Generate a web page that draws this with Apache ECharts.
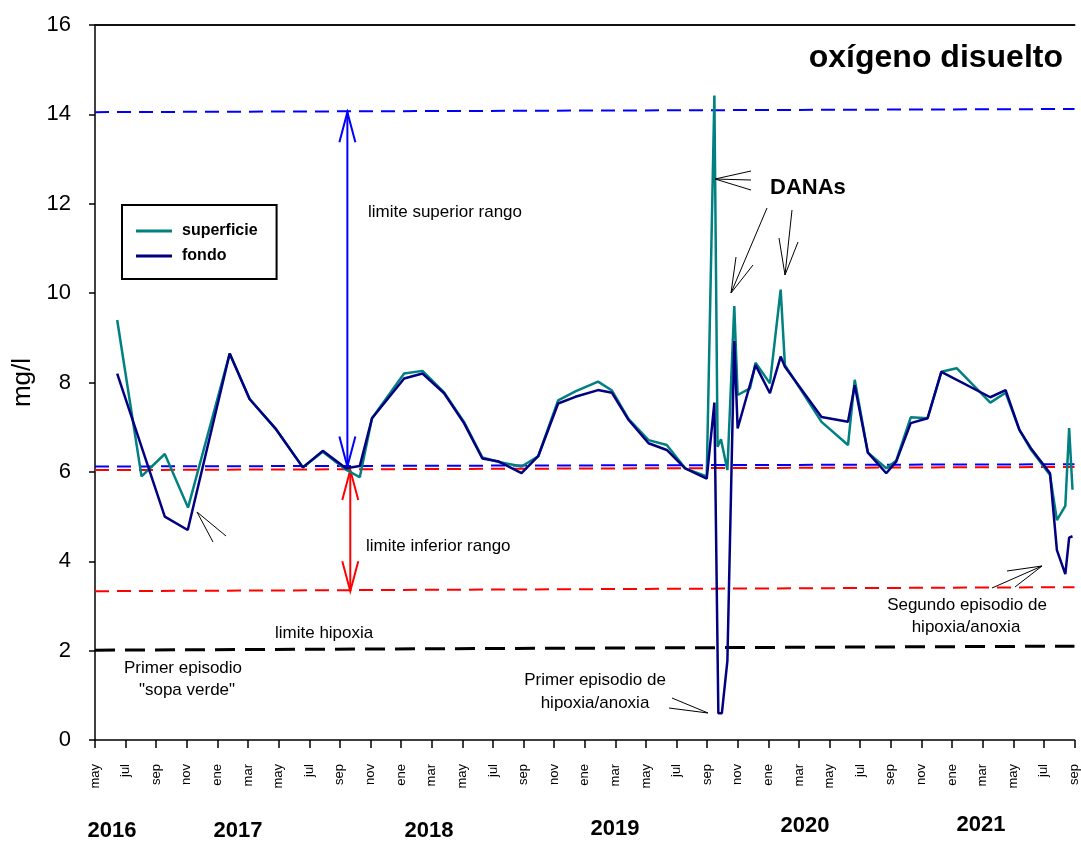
<!DOCTYPE html>
<html>
<head>
<meta charset="utf-8">
<script src="https://cdn.jsdelivr.net/npm/echarts@6/dist/echarts.min.js"></script>
<style>
html,body{margin:0;padding:0;background:#fff;}
#chart{width:1081px;height:843px;}
</style>
</head>
<body>
<div id="chart"></div>
<script>
// ---- data (x = months since May 2016) ----
var monthLabels = ['may','jul','sep','nov','ene','mar'];
var yearLabels = ['2016','2017','2018','2019','2020','2021'];

var superficieMonth = [1.45,3.04,4.56,6.08,8.8,10.1,11.84,13.58,14.88,16.4,17.3,18.1,20.2,21.4,22.81,24.11,25.31,26.39,27.87,28.96,30.26,31.39,32.87,33.78,34.87,36.17,37.36,38.56,39.97,40.47,40.68,40.9,41.32,41.77,41.99,42.8,43.16,44.1,44.8,45.08,47.47,49.2,49.64,50.5,51.7,52.35,53.3,54.4,55.3,56.3,58.5,59.5,60.4,61.15,62.4,62.85,63.4,63.65,63.87];
var superficieValue = [9.4,5.9,6.4,5.2,8.65,7.63,6.95,6.1,6.45,6.05,5.88,7.2,8.2,8.26,7.78,7.12,6.32,6.22,6.12,6.35,7.6,7.8,8.02,7.82,7.18,6.71,6.6,6.08,5.9,14.42,6.56,6.73,6.04,9.71,7.72,7.87,8.44,7.98,10.08,8.39,7.12,6.6,8.06,6.43,6.08,6.25,7.22,7.2,8.24,8.32,7.55,7.77,6.94,6.5,5.93,4.92,5.24,6.98,5.6];

var fondoMonth = [1.45,4.56,6.06,8.8,10.1,11.84,13.58,14.88,16.4,17.3,18.1,20.2,21.4,22.81,24.11,25.31,26.39,27.87,28.96,30.26,31.39,32.87,33.78,34.87,36.17,37.36,38.56,39.97,40.47,40.73,40.96,41.32,41.77,41.99,43.16,44.1,44.8,45.08,47.47,49.2,49.64,50.5,51.7,52.35,53.3,54.4,55.3,58.5,59.5,60.4,61.15,62.4,62.85,63.4,63.65,63.87];
var fondoValue = [8.2,5.0,4.7,8.65,7.63,6.95,6.1,6.47,6.08,6.13,7.2,8.09,8.2,7.76,7.09,6.3,6.23,5.97,6.35,7.53,7.68,7.83,7.77,7.16,6.64,6.49,6.08,5.85,7.55,0.6,0.6,1.77,8.93,6.97,8.39,7.76,8.58,8.35,7.23,7.12,7.94,6.43,5.97,6.23,7.09,7.2,8.24,7.67,7.83,6.94,6.53,5.97,4.25,3.71,4.53,4.56];

var refLineMonth = [0, 64];
var upperBlue = [14.05, 14.12];
var lowerBlue = [6.12, 6.17];
var upperRed = [6.04, 6.11];
var lowerRed = [3.33, 3.42];
var hypoxia = [2.01, 2.10];

// range arrows: [month, from, to]
var blueArrow = [16.49, 14.05, 6.12];
var redArrow = [16.68, 6.04, 3.33];

function pairs(xs, ys){ return xs.map(function(x,i){ return [x, ys[i]]; }); }

var FONT = '"Liberation Sans", Arial, sans-serif';

function refSeries(vals, color, width, dash){
  return {
    type:'line', data: pairs(refLineMonth, vals), symbol:'none', silent:true,
    lineStyle:{color:color, width:width, type:dash}, z:1
  };
}

function arrowSeries(a, color){
  return {
    type:'custom', silent:true, z:3,
    data:[a],
    renderItem:function(params, api){
      var p1 = api.coord([api.value(0), api.value(1)]);
      var p2 = api.coord([api.value(0), api.value(2)]);
      var hw = 8, hl = 30;
      var st = {stroke:color, lineWidth:2, fill:null};
      return {type:'group', children:[
        {type:'line', shape:{x1:p1[0],y1:p1[1],x2:p2[0],y2:p2[1]}, style:st},
        {type:'polyline', shape:{points:[[p1[0]-hw,p1[1]+hl],[p1[0],p1[1]],[p1[0]+hw,p1[1]+hl]]}, style:st},
        {type:'polyline', shape:{points:[[p2[0]-hw,p2[1]-hl],[p2[0],p2[1]],[p2[0]+hw,p2[1]-hl]]}, style:st}
      ]};
    }
  };
}

function txt(x, y, s, size, align, bold){
  return {type:'text', x:x, y:y, silent:true, z:10, style:{text:s, fontSize:size, fontFamily:FONT,
    fontWeight:bold?'bold':'normal', fill:'#000', align:align||'left', verticalAlign:'middle'}};
}
function pl(points){
  return {type:'polyline', silent:true, z:10, shape:{points:points}, style:{stroke:'#000', lineWidth:1, fill:null}};
}

var chart = echarts.init(document.getElementById('chart'), null, {renderer:'canvas'});

var yearPos = [[112,831],[238,831],[429,831],[615,829],[805,826],[981,825]];
var graphics = [];
yearLabels.forEach(function(y,i){ graphics.push(txt(yearPos[i][0], yearPos[i][1], y, 22, 'center', true)); });
graphics.push(
  txt(1063, 58, 'oxígeno disuelto', 32, 'right', true),
  txt(368, 212, 'limite superior rango', 17),
  txt(366, 546, 'limite inferior rango', 17),
  txt(275, 633, 'limite hipoxia', 17),
  txt(183, 668, 'Primer episodio', 17, 'center'),
  txt(187, 690, '"sopa verde"', 17, 'center'),
  txt(770, 188, 'DANAs', 22, 'left', true),
  txt(595, 680, 'Primer episodio de', 17, 'center'),
  txt(595, 703, 'hipoxia/anoxia', 17, 'center'),
  txt(967, 605, 'Segundo episodio de', 17, 'center'),
  txt(966, 627, 'hipoxia/anoxia', 17, 'center'),
  pl([[226,536],[197,512],[213,542]]),
  pl([[751,171],[715,179],[751,180]]),
  pl([[715,179],[751,190]]),
  pl([[767,208],[731,293]]),
  pl([[736,257],[731,293],[753,265]]),
  pl([[792,210],[785,275]]),
  pl([[779,238],[785,275],[798,242]]),
  pl([[672,698],[708,713],[669,708]]),
  pl([[1007,571],[1042,566],[992,588]]),
  pl([[1042,566],[1015,587]])
);

var option = {
  backgroundColor:'#fff',
  animation:false,
  grid:{left:95, right:4, top:25, bottom:103, containLabel:false},
  legend:{
    show:true, orient:'vertical', left:122, top:205,
    data:['superficie','fondo'],
    itemWidth:36, itemHeight:3, itemGap:9,
    padding:[18,19,15,14],
    borderColor:'#000', borderWidth:2, backgroundColor:'#fff',
    textStyle:{fontFamily:FONT, fontSize:16, fontWeight:'bold', color:'#000', padding:[0,0,0,5]},
    icon:'rect',
    selectedMode:false
  },
  xAxis:[{
    type:'value', min:0, max:64, interval:2,
    axisLine:{lineStyle:{color:'#000', width:1.5}},
    axisTick:{show:true, inside:false, length:8, lineStyle:{color:'#000', width:1.5}},
    axisLabel:{rotate:90, fontSize:13, fontFamily:FONT, color:'#000', margin:24,
      formatter:function(v){ return monthLabels[Math.round(v/2)%6]; }},
    splitLine:{show:false}
  },{
    type:'value', position:'top', min:0, max:64,
    axisLine:{show:true, lineStyle:{color:'#111', width:2}},
    axisTick:{show:false}, axisLabel:{show:false}, splitLine:{show:false}
  }],
  yAxis:{
    type:'value', min:0, max:16, interval:2,
    name:'mg/l', nameLocation:'middle', nameGap:40, nameRotate:90,
    nameTextStyle:{fontSize:26, fontFamily:FONT, color:'#000'},
    axisLine:{show:true, lineStyle:{color:'#000', width:1.5}},
    axisTick:{show:true, inside:false, length:6, lineStyle:{color:'#000', width:1.5}},
    axisLabel:{fontSize:22, fontFamily:FONT, color:'#000', margin:24},
    splitLine:{show:false}
  },
  graphic:graphics,
  series:[
    refSeries(upperBlue, '#0000ff', 2, [14,8]),
    refSeries(lowerBlue, '#0000ff', 2, [14,8]),
    refSeries(upperRed, '#ff0000', 2, [14,8]),
    refSeries(lowerRed, '#ff0000', 2, [14,8]),
    refSeries(hypoxia, '#000000', 3, [20,10]),
    arrowSeries(blueArrow, '#0000ff'),
    arrowSeries(redArrow, '#ff0000'),
    {name:'superficie', type:'line', data:pairs(superficieMonth, superficieValue), symbol:'none',
      lineStyle:{color:'#008080', width:2.5}, itemStyle:{color:'#008080'}, z:4},
    {name:'fondo', type:'line', data:pairs(fondoMonth, fondoValue), symbol:'none',
      lineStyle:{color:'#000080', width:2.5}, itemStyle:{color:'#000080'}, z:5}
  ]
};
chart.setOption(option);
</script>
</body>
</html>
